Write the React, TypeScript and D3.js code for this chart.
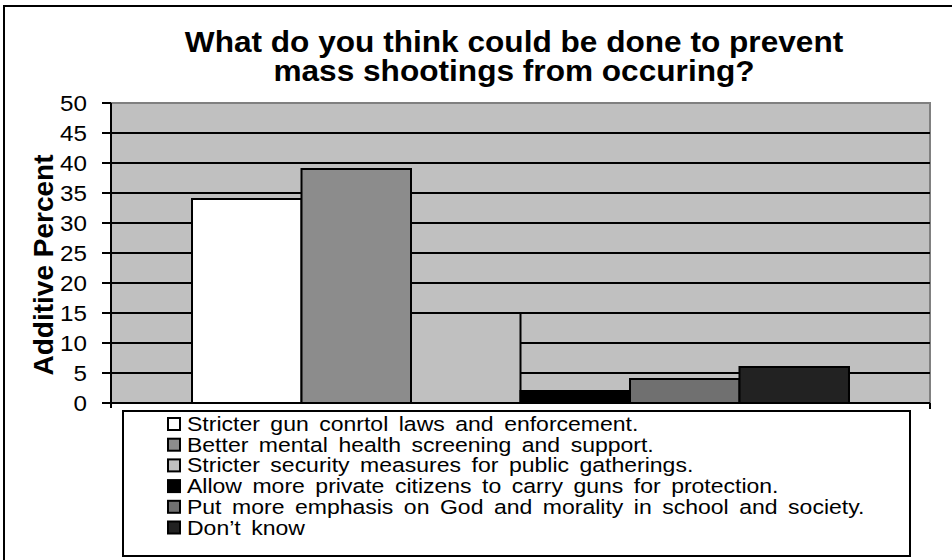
import * as d3 from 'd3';

// chart data
const titleLines = ['What do you think could be done to prevent', 'mass shootings from occuring?'];
const yLabel = 'Additive Percent';
const seriesNames = [
  'Stricter gun conrtol laws and enforcement.',
  'Better mental health screening and support.',
  'Stricter security measures for public gatherings.',
  'Allow more private citizens to carry guns for protection.',
  'Put more emphasis on God and morality in school and society.',
  'Don’t know',
];
const seriesValues = [34, 39, 15, 2, 4, 6];
const seriesColors = ['#ffffff', '#8c8c8c', '#c0c0c0', '#000000', '#707070', '#222222'];
const yTicks = [0, 5, 10, 15, 20, 25, 30, 35, 40, 45, 50];

const W = 952;
const H = 560;
const plot = { left: 111, right: 930, top: 103, bottom: 403 };
const font = '"Liberation Sans", Arial, Helvetica, sans-serif';

export default function App() {
  const y = d3.scaleLinear().domain([0, 50]).range([plot.bottom, plot.top]);
  // single category, Excel style gap on both sides
  const cat = d3.scaleBand<string>().domain(['']).range([plot.left, plot.right]).paddingOuter(0.1233).paddingInner(0);
  const x = d3
    .scaleBand<string>()
    .domain(seriesNames)
    .range([cat('') as number, (cat('') as number) + cat.bandwidth()])
    .padding(0);

  const legend = { x: 123, y: 411, w: 787, h: 145, rowY: 424, rowH: 20.7 };

  return (
    <svg width={W} height={H} style={{ position: 'absolute', left: 0, top: 0, background: '#fff' }} fontFamily={font}>
      {/* outer frame */}
      <rect x={4} y={6} width={W + 20} height={H + 20} fill="#fff" stroke="#000" strokeWidth={2} />

      {/* title */}
      {titleLines.map((t, i) => (
        <text
          key={t}
          transform={`translate(514,${52 + i * 29}) scale(1.09,1)`}
          textAnchor="middle"
          fontSize={29}
          fontWeight="bold"
          fill="#000"
        >
          {t}
        </text>
      ))}

      {/* plot area */}
      <rect x={plot.left} y={plot.top} width={plot.right - plot.left} height={plot.bottom - plot.top} fill="#c0c0c0" />
      <path
        d={`M${plot.left},${plot.top}H${plot.right}V${plot.bottom}`}
        fill="none"
        stroke="#808080"
        strokeWidth={2}
      />

      {/* gridlines */}
      {yTicks
        .filter((t) => t > 0 && t < 50)
        .map((t) => (
          <line key={t} x1={plot.left} x2={plot.right} y1={y(t)} y2={y(t)} stroke="#000" strokeWidth={2} />
        ))}

      {/* bars */}
      {seriesNames.map((s, i) => (
        <rect
          key={s}
          x={x(s)}
          y={y(seriesValues[i])}
          width={x.bandwidth()}
          height={plot.bottom - y(seriesValues[i])}
          fill={seriesColors[i]}
          stroke="#000"
          strokeWidth={2}
        />
      ))}

      {/* y axis */}
      <line x1={plot.left} x2={plot.left} y1={plot.top} y2={plot.bottom + 5} stroke="#000" strokeWidth={2} />
      {yTicks.map((t) => (
        <g key={t}>
          <line x1={plot.left - 9} x2={plot.left} y1={y(t)} y2={y(t)} stroke="#000" strokeWidth={2} />
          <text
            transform={`translate(87,${y(t)}) scale(1.1,1)`}
            dy="0.36em"
            textAnchor="end"
            fontSize={22}
            fill="#000"
          >
            {t}
          </text>
        </g>
      ))}

      {/* x axis */}
      <line x1={plot.left} x2={plot.right} y1={plot.bottom} y2={plot.bottom} stroke="#000" strokeWidth={2} />
      <line x1={plot.right} x2={plot.right} y1={plot.bottom} y2={plot.bottom + 6} stroke="#000" strokeWidth={2} />

      {/* y axis title */}
      <text
        transform={`translate(53,265) rotate(-90)`}
        textAnchor="middle"
        fontSize={28}
        fontWeight="bold"
        fill="#000"
      >
        {yLabel}
      </text>

      {/* legend */}
      <rect x={legend.x} y={legend.y} width={legend.w} height={legend.h} fill="#fff" stroke="#000" strokeWidth={2} />
      {seriesNames.map((s, i) => {
        const cy = legend.rowY + i * legend.rowH;
        return (
          <g key={s}>
            <rect x={168} y={cy - 6} width={12} height={12} fill={seriesColors[i]} stroke="#000" strokeWidth={2} />
            <text
              transform={`translate(187,${cy}) scale(1.18,1)`}
              dy="0.36em"
              fontSize={19.5}
              wordSpacing={3.5}
              fill="#000"
            >
              {s}
            </text>
          </g>
        );
      })}
    </svg>
  );
}
